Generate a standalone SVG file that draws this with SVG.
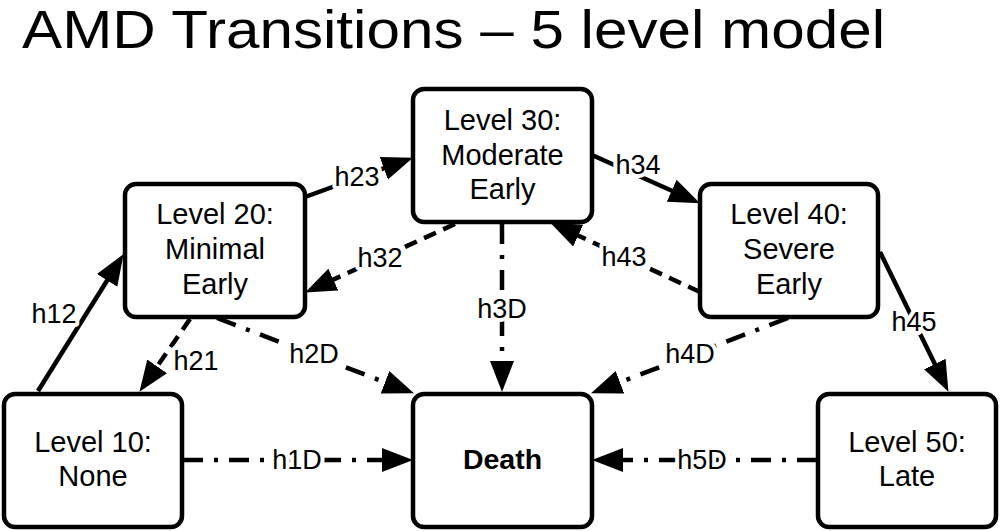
<svg xmlns="http://www.w3.org/2000/svg" width="1001" height="531" viewBox="0 0 1001 531">
<style>
  .box{fill:#fff;stroke:#000;stroke-width:4.5}
  .nt{font-family:"Liberation Sans",Arial,sans-serif;font-size:29px;text-anchor:middle;fill:#000}
  .bold{font-weight:bold;font-size:28.5px}
  .ln{fill:none;stroke:#000;stroke-width:4.5}
  .dash{stroke-dasharray:13 8}
  .dd{stroke-dasharray:20 11 4 11}
  .lb{font-family:"Liberation Sans",Arial,sans-serif;font-size:27px;text-anchor:middle;fill:#000;stroke:#fff;stroke-width:8;paint-order:stroke;stroke-linejoin:round}
  .title{font-family:"Liberation Sans",Arial,sans-serif;font-size:54px;fill:#000}
</style>
<defs>
  <marker id="ah" markerUnits="userSpaceOnUse" markerWidth="34" markerHeight="26" refX="2" refY="12" orient="auto">
    <path d="M0,0 L31,12 L0,24 z" fill="#000"/>
  </marker>
</defs>
<rect width="1001" height="531" fill="#fff"/>
<text class="title" x="22" y="48" textLength="863" lengthAdjust="spacingAndGlyphs">AMD Transitions – 5 level model</text>

<g id="connectors">
  <line class="ln" x1="38" y1="391" x2="108.2" y2="278.7" marker-end="url(#ah)"/>
  <line class="ln" x1="305" y1="197" x2="385.7" y2="167.6" marker-end="url(#ah)"/>
  <line class="ln dash" x1="455" y1="224" x2="331.5" y2="280.4" marker-end="url(#ah)"/>
  <line class="ln" x1="592" y1="155" x2="673.5" y2="191.5" marker-end="url(#ah)"/>
  <line class="ln dash" x1="700" y1="292" x2="576.4" y2="234.8" marker-end="url(#ah)"/>
  <line class="ln" x1="880" y1="252" x2="935.7" y2="365.8" marker-end="url(#ah)"/>
  <line class="ln dash" x1="190" y1="319" x2="156" y2="368" marker-end="url(#ah)"/>
  <line class="ln dd" x1="217" y1="318" x2="386.9" y2="383" marker-end="url(#ah)"/>
  <line class="ln dd" x1="502" y1="224" x2="502" y2="363" marker-end="url(#ah)"/>
  <line class="ln dd" x1="788" y1="318" x2="618.1" y2="383" marker-end="url(#ah)"/>
  <line class="ln dd" x1="183" y1="460" x2="384" y2="460" marker-end="url(#ah)"/>
  <line class="ln dd" x1="817" y1="460" x2="621" y2="460" marker-end="url(#ah)"/>
  <text class="lb" x="54" y="323">h12</text>
  <text class="lb" x="357" y="186">h23</text>
  <text class="lb" x="380" y="267">h32</text>
  <text class="lb" x="638" y="174">h34</text>
  <text class="lb" x="624" y="266">h43</text>
  <text class="lb" x="914" y="331">h45</text>
  <text class="lb" x="196" y="370">h21</text>
  <text class="lb" x="314" y="363">h2D</text>
  <text class="lb" x="502" y="318">h3D</text>
  <text class="lb" x="690" y="363">h4D</text>
  <text class="lb" x="297" y="469">h1D</text>
  <text class="lb" x="702" y="469">h5D</text>
</g>

<g id="level20">
  <rect class="box" x="125" y="184" width="180" height="133" rx="11"/>
  <text class="nt" x="215" y="224">Level 20:</text>
  <text class="nt" x="215" y="259">Minimal</text>
  <text class="nt" x="215" y="294">Early</text>
</g>
<g id="level30">
  <rect class="box" x="413" y="89" width="179" height="133" rx="11"/>
  <text class="nt" x="502.5" y="130">Level 30:</text>
  <text class="nt" x="502.5" y="165">Moderate</text>
  <text class="nt" x="502.5" y="199">Early</text>
</g>
<g id="level40">
  <rect class="box" x="700" y="184" width="178" height="133" rx="11"/>
  <text class="nt" x="789" y="224">Level 40:</text>
  <text class="nt" x="789" y="259">Severe</text>
  <text class="nt" x="789" y="294">Early</text>
</g>
<g id="level10">
  <rect class="box" x="4" y="394" width="178" height="133" rx="11"/>
  <text class="nt" x="93" y="452">Level 10:</text>
  <text class="nt" x="93" y="486">None</text>
</g>
<g id="level50">
  <rect class="box" x="818" y="394" width="178" height="133" rx="11"/>
  <text class="nt" x="907" y="452">Level 50:</text>
  <text class="nt" x="907" y="486">Late</text>
</g>
<g id="death">
  <rect class="box" x="413" y="394" width="179" height="133" rx="11"/>
  <text class="nt bold" x="502.5" y="469">Death</text>
</g>
</svg>
